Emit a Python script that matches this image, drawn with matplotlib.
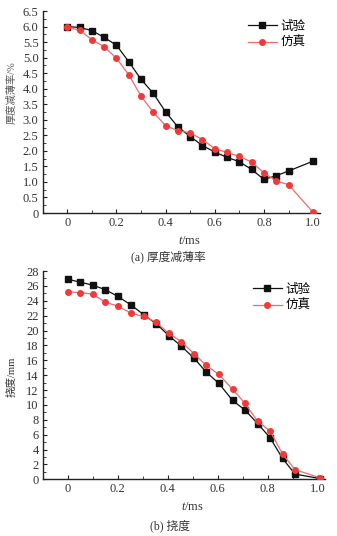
import matplotlib
matplotlib.use("Agg")
import matplotlib.pyplot as plt
from matplotlib.ticker import MultipleLocator, FuncFormatter

plt.rcParams['font.family'] = ['Liberation Serif', 'Noto Sans CJK SC']
plt.rcParams['mathtext.fontset'] = 'custom'
plt.rcParams['mathtext.it'] = 'Liberation Serif:italic'
plt.rcParams['mathtext.rm'] = 'Liberation Serif'

# ---- data (a) thickness thinning rate ----
t_a_exp = [0, 0.05, 0.10, 0.15, 0.20, 0.25, 0.30, 0.35, 0.40, 0.45, 0.50,
           0.55, 0.60, 0.65, 0.70, 0.75, 0.80, 0.85, 0.90, 1.00]
thin_exp = [6.00, 5.97, 5.87, 5.65, 5.40, 4.87, 4.30, 3.85, 3.25, 2.77, 2.46,
            2.17, 1.96, 1.79, 1.65, 1.40, 1.08, 1.20, 1.35, 1.67]
t_a_sim = [0, 0.05, 0.10, 0.15, 0.20, 0.25, 0.30, 0.35, 0.40, 0.45, 0.50,
           0.55, 0.60, 0.65, 0.70, 0.75, 0.80, 0.85, 0.90, 1.00]
thin_sim = [5.98, 5.88, 5.58, 5.35, 4.98, 4.45, 3.76, 3.24, 2.81, 2.65, 2.58,
            2.36, 2.07, 1.95, 1.82, 1.64, 1.29, 1.03, 0.91, 0.02]

# ---- data (b) deflection ----
t_b = [0, 0.05, 0.10, 0.15, 0.20, 0.255, 0.305, 0.355, 0.405, 0.455, 0.505,
       0.555, 0.605, 0.66, 0.71, 0.76, 0.81, 0.86, 0.91, 1.01]
defl_exp = [26.9, 26.5, 26.1, 25.5, 24.6, 23.4, 22.1, 20.9, 19.3, 17.9, 16.3,
            14.4, 12.9, 10.6, 9.3, 7.5, 5.6, 2.8, 0.7, 0.1]
defl_sim = [25.2, 25.1, 24.9, 23.8, 23.3, 22.3, 21.9, 21.1, 19.6, 18.5, 16.9,
            15.3, 14.1, 12.1, 10.2, 7.8, 6.5, 3.4, 1.3, 0.2]

labels = ['试验', '仿真']
txt = '#333333'
red = '#f03a3a'
redline = '#f26a6a'

W, H = 337, 536
fig = plt.figure(figsize=(W / 100, H / 100), dpi=100)

def ax_rect(l, r, t, b):
    return [l / W, 1 - b / H, (r - l) / W, (b - t) / H]

def style(ax):
    for s in ['top', 'right']:
        ax.spines[s].set_visible(False)
    for s in ['left', 'bottom']:
        ax.spines[s].set_linewidth(1.0)
        ax.spines[s].set_color('#222222')
    ax.tick_params(which='both', direction='in', colors='#222222',
                   labelcolor=txt, labelsize=9, pad=3)
    ax.tick_params(which='major', length=3, width=0.8)
    ax.tick_params(which='minor', length=2, width=0.6)
    ax.xaxis.set_major_locator(MultipleLocator(0.2))
    ax.xaxis.set_minor_locator(MultipleLocator(0.1))
    ax.xaxis.set_major_formatter(FuncFormatter(lambda v, p: '0' if abs(v) < 1e-9 else f'{v:.1f}'))

# ---- (a) ----
ax1 = fig.add_axes(ax_rect(42.7, 320, 11, 213))
style(ax1)
ax1.plot(t_a_exp, thin_exp, color='#111111', lw=0.9, marker='s', ms=4.2,
         label=labels[0], zorder=3)
ax1.plot(t_a_sim, thin_sim, color=redline, lw=0.9, marker='o', ms=4.0,
         mfc=red, mec=red, label=labels[1], zorder=4)
ax1.set_xlim(-0.1, 1.028)
ax1.set_ylim(0, 6.5)
ax1.yaxis.set_major_locator(MultipleLocator(0.5))
ax1.yaxis.set_minor_locator(MultipleLocator(0.25))
ax1.yaxis.set_major_formatter(FuncFormatter(lambda v, p: '0' if abs(v) < 1e-9 else f'{v:.1f}'))
ax1.legend(loc='upper left', bbox_to_anchor=((239 - 42.7) / (320 - 42.7), 1.0),
           frameon=False, handlelength=2.3, handletextpad=0.3,
           labelspacing=0.25, borderaxespad=0.3,
           prop={'family': ['Noto Sans CJK SC'], 'size': 9})
fig.text(12 / W, 1 - 93 / H, '厚度减薄率/%', rotation=90, ha='center', va='center',
         fontsize=7.4, color='#555555', family=['Liberation Serif', 'Noto Sans CJK SC'])
fig.text(190 / W, 1 - 241 / H, '$t$/ms', ha='center', va='center', fontsize=9, color=txt)
fig.text(168 / W, 1 - 257 / H, '(a) 厚度减薄率', ha='center', va='center',
         fontsize=8.5, color=txt, family=['Liberation Serif', 'Noto Sans CJK SC'])

# ---- (b) ----
ax2 = fig.add_axes(ax_rect(42.7, 325, 271, 479.3))
style(ax2)
ax2.plot(t_b, defl_exp, color='#111111', lw=0.9, marker='s', ms=4.2,
         label=labels[0], zorder=3)
ax2.plot(t_b, defl_sim, color=redline, lw=0.9, marker='o', ms=4.0,
         mfc=red, mec=red, label=labels[1], zorder=4)
ax2.set_xlim(-0.1, 1.03)
ax2.set_ylim(0, 28)
ax2.yaxis.set_major_locator(MultipleLocator(2))
ax2.yaxis.set_minor_locator(MultipleLocator(1))
ax2.legend(loc='upper left', bbox_to_anchor=((244 - 42.7) / (325 - 42.7), 0.985),
           frameon=False, handlelength=2.3, handletextpad=0.3,
           labelspacing=0.25, borderaxespad=0.3,
           prop={'family': ['Noto Sans CJK SC'], 'size': 9})
fig.text(12 / W, 1 - 377 / H, '挠度/mm', rotation=90, ha='center', va='center',
         fontsize=7.6, color=txt, family=['Liberation Serif', 'Noto Sans CJK SC'])
fig.text(193 / W, 1 - 507.5 / H, '$t$/ms', ha='center', va='center', fontsize=9, color=txt)
fig.text(170 / W, 1 - 526 / H, '(b) 挠度', ha='center', va='center',
         fontsize=8.5, color=txt, family=['Liberation Serif', 'Noto Sans CJK SC'])

fig.savefig('out.png', dpi=100)
